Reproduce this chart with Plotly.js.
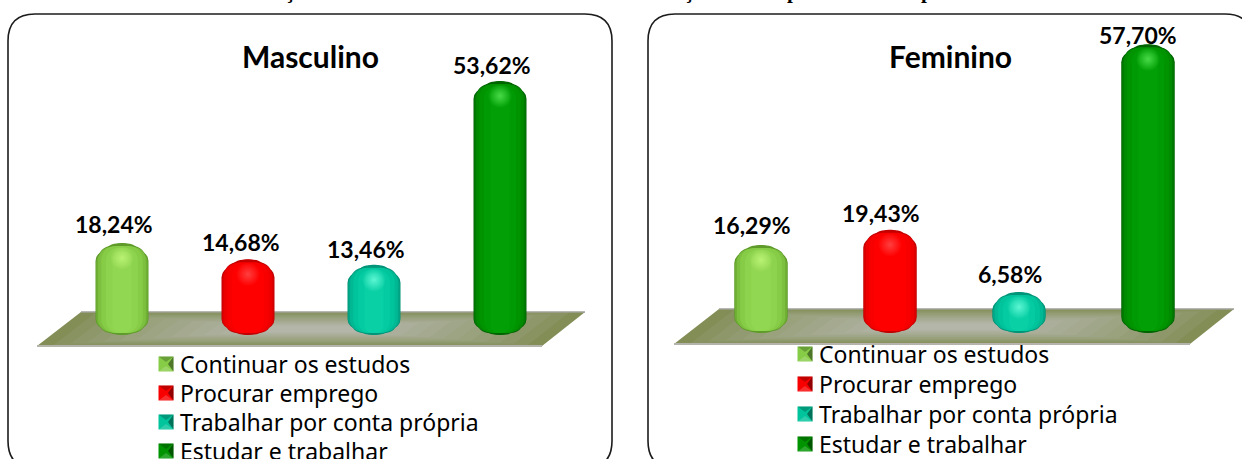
<!DOCTYPE html>
<html lang="pt">
<head>
<meta charset="utf-8">
<script src="https://cdn.plot.ly/plotly-3.0.1.min.js"></script>
<style>html,body{margin:0;padding:0;background:#fff;overflow:hidden;width:1242px;height:459px}</style>
</head>
<body>
<div id="chart" style="width:1242px;height:480px"></div>
<script>
const categories = ["Continuar os estudos", "Procurar emprego", "Trabalhar por conta própria", "Estudar e trabalhar"];
const masculinoValues = [18.24, 14.68, 13.46, 53.62];
const femininoValues = [16.29, 19.43, 6.58, 57.70];
const masculinoLabels = ["18,24%", "14,68%", "13,46%", "53,62%"];
const femininoLabels = ["16,29%", "19,43%", "6,58%", "57,70%"];

const W = 1242, H = 480;
const ramps = [
  ["#5f9b2a", "#6fb034", "#7dc03f", "#86cc47", "#8dd34d", "#92d752"],
  ["#c20000", "#dc0000", "#ee0000", "#f80000", "#fe0000", "#ff0000"],
  ["#009479", "#00a888", "#00b894", "#00c49c", "#04cba2", "#0ad0a6"],
  ["#006400", "#007a00", "#008a00", "#009400", "#009b04", "#02a006"]
];
const glows = ["rgba(190,245,120,", "rgba(255,70,70,", "rgba(100,250,215,", "rgba(80,225,80,"];
const layers = [
  {w: 1.00, top: 8, bot: 6, r: 10, c: 0},
  {w: 0.90, top: 3, bot: 2, r: 13, c: 0},
  {w: 0.72, top: 0.5, bot: 0.5, r: 14, c: 0},
  {w: 0.50, top: 0, bot: 0, r: 12, c: 0},
  {w: 0.97, top: 9, bot: 6, r: 10, c: 1},
  {w: 0.90, top: 4, bot: 3, r: 13, c: 2},
  {w: 0.78, top: 3, bot: 2, r: 14, c: 3},
  {w: 0.60, top: 5, bot: 2, r: 12, c: 4},
  {w: 0.36, top: 8, bot: 2, r: 8, c: 5}
];

const panels = [
  {name: "Masculino", values: masculinoValues, labels: masculinoLabels, xa: "x", ya: "y",
   xPx: [59, 563], y0: 326.5, k: 4.58, barW: 53, foot: 335, box: [8, 14, 612, 468],
   floor: [[81, 312], [585, 312], [542, 346], [37, 346]],
   titleX: 310, titleY: 56, legend: "legend", legendX: 140, legendY: 349, rowH: 29,
   dx: [-8, -7, -8, -8], dy: [-19, -17, -16, -16]},
  {name: "Feminino", values: femininoValues, labels: femininoLabels, xa: "x2", ya: "y2",
   xPx: [696.5, 1212.5], y0: 324, k: 4.85, barW: 53.5, foot: 333, box: [648, 14, 1252, 468],
   floor: [[719, 309], [1234, 309], [1190, 344], [674, 344]],
   titleX: 950, titleY: 56, legend: "legend2", legendX: 779, legendY: 339, rowH: 30,
   dx: [-9, -9, -9, -10], dy: [-20, -17, -18, -9]}
];

const nx = px => px / W, ny = py => 1 - py / H;
const idx = categories.map((_, i) => i);
const data = [], shapes = [], annotations = [];

function mix(a, b, t) { return "rgb(" + a.map((c, i) => Math.round(c + (b[i] - c) * t)).join(",") + ")"; }
function poly(pts) { return "M" + pts.map(p => nx(p[0]) + "," + ny(p[1])).join("L") + "Z"; }

panels.forEach(p => {
  const [l, t, r, b] = p.box, R = 27;
  shapes.push({type: "path", xref: "paper", yref: "paper", layer: "below", fillcolor: "#ffffff",
    line: {color: "#1c1c1c", width: 1.6},
    path: `M${nx(l + R)},${ny(t)}L${nx(r - R)},${ny(t)}Q${nx(r)},${ny(t)} ${nx(r)},${ny(t + R)}` +
          `L${nx(r)},${ny(b - R)}Q${nx(r)},${ny(b)} ${nx(r - R)},${ny(b)}L${nx(l + R)},${ny(b)}` +
          `Q${nx(l)},${ny(b)} ${nx(l)},${ny(b - R)}L${nx(l)},${ny(t + R)}Q${nx(l)},${ny(t)} ${nx(l + R)},${ny(t)}Z`});
  // floor slab: nested polygons fake the olive-to-grey gradient
  const cx = p.floor.reduce((s, q) => s + q[0], 0) / 4, cy = p.floor.reduce((s, q) => s + q[1], 0) / 4;
  const N = 14;
  for (let i = 0; i < N; i++) {
    const s = 1 - i / N * 0.85;
    const sy = 1 - i / N * 0.9;
    const pts = p.floor.map(q => [cx + (q[0] - cx) * s, cy + (q[1] - cy) * sy]);
    shapes.push({type: "path", xref: "paper", yref: "paper", layer: "below",
      fillcolor: mix([130, 142, 86], [180, 182, 170], Math.pow(i / (N - 1), 0.8)), line: {width: 0}, path: poly(pts)});
  }
  shapes.push({type: "line", xref: "paper", yref: "paper", layer: "below",
    x0: nx(p.floor[0][0]), x1: nx(p.floor[1][0]), y0: ny(p.floor[0][1]), y1: ny(p.floor[1][1]),
    line: {color: "#a0a098", width: 1.5}});
  shapes.push({type: "line", xref: "paper", yref: "paper", layer: "below",
    x0: nx(p.floor[3][0]), x1: nx(p.floor[2][0]), y0: ny(p.floor[3][1]), y1: ny(p.floor[2][1]),
    line: {color: "#b4b4ac", width: 2}});

  const unitW = (p.xPx[1] - p.xPx[0]) / 4;
  const footV = (p.y0 - p.foot) / p.k;
  layers.forEach(ly => {
    const baseV = footV + ly.bot / p.k;
    data.push({type: "bar", xaxis: p.xa, yaxis: p.ya, x: idx,
      y: p.values.map(v => v - ly.top / p.k - baseV), base: baseV,
      width: ly.w * p.barW / unitW, showlegend: false, hoverinfo: "skip",
      marker: {color: ramps.map(c => c[ly.c]), cornerradius: ly.r, line: {width: 0}}});
  });
  data.push({type: "scatter", mode: "markers", xaxis: p.xa, yaxis: p.ya, x: idx,
    y: p.values.map(v => v - 15 / p.k), showlegend: false, hoverinfo: "skip",
    marker: {size: 24, line: {width: 0}, color: glows.map(g => g + "0)"),
      gradient: {type: "radial", color: glows.map(g => g + "0.9)")}}});
  categories.forEach((c, i) => {
    data.push({type: "scatter", mode: "markers", xaxis: p.xa, yaxis: p.ya, x: [null], y: [null],
      name: c, legend: p.legend, showlegend: true, hoverinfo: "skip",
      marker: {symbol: "square", size: 15, color: ramps[i][3], line: {width: 0}}});
  });
  p.labels.forEach((txt, i) => {
    annotations.push({xref: p.xa, yref: p.ya, x: i, y: p.values[i], text: "<b>" + txt + "</b>",
      showarrow: false, xshift: p.dx[i], yshift: -p.dy[i],
      font: {family: "Lato, sans-serif", size: 23, color: "#000"}});
  });
  annotations.push({xref: "paper", yref: "paper", x: nx(p.titleX), y: ny(p.titleY), xanchor: "center", yanchor: "middle",
    text: "<b>" + p.name + "</b>", showarrow: false, font: {family: "Lato, sans-serif", size: 30, color: "#000"}});
});

// tips of the cut-off heading line at the very top of the page
[["ç", 289], ["ç", 688], ["p", 793], ["p", 927]].forEach(([ch, x]) => {
  annotations.push({xref: "paper", yref: "paper", x: nx(x), y: ny(5), xanchor: "center", yanchor: "bottom", text: "<b>" + ch + "</b>",
    showarrow: false, font: {family: "Liberation Serif, serif", size: 21, color: "#000"}});
});

const axis = {visible: false, fixedrange: true, showgrid: false, zeroline: false};
const legendFont = {family: "Noto Sans, sans-serif", size: 23, color: "#000"};
const layout = {
  width: W, height: H, margin: {l: 0, r: 0, t: 0, b: 0, pad: 0, autoexpand: false},
  paper_bgcolor: "#fff", plot_bgcolor: "rgba(0,0,0,0)", barmode: "overlay", showlegend: true,
  xaxis: Object.assign({}, axis, {range: [-0.5, 3.5], domain: [nx(panels[0].xPx[0]), nx(panels[0].xPx[1])], anchor: "y"}),
  yaxis: Object.assign({}, axis, {range: [(panels[0].y0 - H) / panels[0].k, panels[0].y0 / panels[0].k], domain: [0, 1], anchor: "x"}),
  xaxis2: Object.assign({}, axis, {range: [-0.5, 3.5], domain: [nx(panels[1].xPx[0]), nx(panels[1].xPx[1])], anchor: "y2"}),
  yaxis2: Object.assign({}, axis, {range: [(panels[1].y0 - H) / panels[1].k, panels[1].y0 / panels[1].k], domain: [0, 1], anchor: "x2"}),
  legend: {x: nx(panels[0].legendX), y: ny(panels[0].legendY), xanchor: "left", yanchor: "top", itemsizing: "trace",
    bgcolor: "rgba(0,0,0,0)", borderwidth: 0, font: legendFont},
  legend2: {x: nx(panels[1].legendX), y: ny(panels[1].legendY), xanchor: "left", yanchor: "top", itemsizing: "trace",
    bgcolor: "rgba(0,0,0,0)", borderwidth: 0, font: legendFont},
  shapes, annotations
};

Plotly.newPlot("chart", data, layout, {displayModeBar: false, staticPlot: true}).then(() => {
  // bevelled legend keys, nudged toward their labels, and the reference's row pitch
  document.querySelectorAll("#chart .legendpoints").forEach(g => {
    const m = g.querySelector("path");
    if (!m) return;
    const tr = m.getAttribute("transform") || "";
    [["M7.5,7.5L2,0L7.5,-7.5Z", "rgba(0,0,0,.42)"], ["M-7.5,-7.5L0,-2L7.5,-7.5Z", "rgba(0,0,0,.22)"],
     ["M-7.5,7.5L0,2L7.5,7.5Z", "rgba(255,255,255,.18)"]].forEach(([d, f]) => {
      const s = document.createElementNS("http://www.w3.org/2000/svg", "path");
      s.setAttribute("d", d); s.setAttribute("fill", f); s.setAttribute("transform", tr);
      g.appendChild(s);
    });
  });
  document.querySelectorAll("#chart .legendsymbols").forEach(g => g.setAttribute("transform", "translate(6,0)"));
  panels.forEach(p => {
    const root = document.querySelector("#chart .infolayer ." + p.legend);
    if (!root) return;
    root.querySelectorAll(".traces").forEach((g, i) => {
      g.setAttribute("transform", "translate(0," + (15 + i * p.rowH) + ")");
    });
  });
});
</script>
</body>
</html>
